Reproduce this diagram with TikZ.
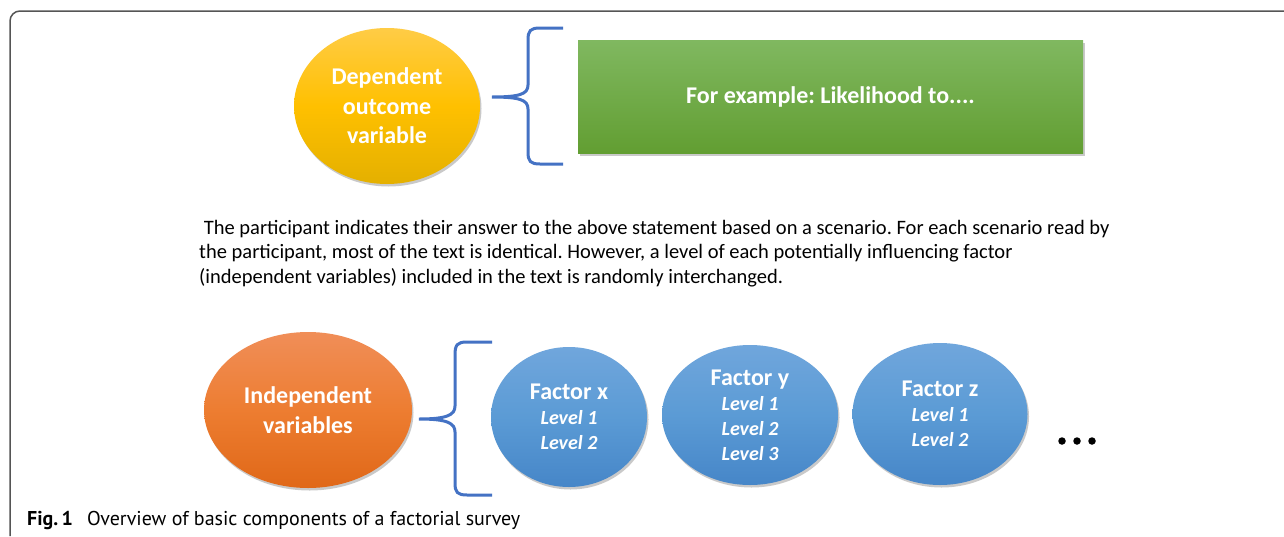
\documentclass[tikz,border=0pt]{standalone}
\usepackage{fontspec}
\setmainfont{Carlito}
\newfontfamily\capfont{PT Sans}
\usetikzlibrary{shapes.geometric,shadows}
\definecolor{framecol}{RGB}{85,85,85}
\definecolor{bracecol}{RGB}{68,114,196}
\definecolor{ytop}{RGB}{255,204,70}
\definecolor{ymid}{RGB}{255,192,0}
\definecolor{ybot}{RGB}{228,176,0}
\definecolor{otop}{RGB}{240,142,88}
\definecolor{omid}{RGB}{237,125,49}
\definecolor{obot}{RGB}{224,104,24}
\definecolor{gtop}{RGB}{128,184,96}
\definecolor{gbot}{RGB}{98,158,50}
\definecolor{btop}{RGB}{112,166,220}
\definecolor{bmid}{RGB}{91,155,213}
\definecolor{bbot}{RGB}{70,134,200}
\frenchspacing
\begin{document}
\begin{tikzpicture}[x=1pt,y=-1pt,
  shad/.style={drop shadow={shadow xshift=1.5pt,shadow yshift=-2.5pt,opacity=0.35,fill=black!60}},
  oval/.style={ellipse,inner sep=0pt,text=white,align=center,shad,
    font=\bfseries\fontsize{24}{29.5}\selectfont},
  yellowfill/.style={top color=ytop,bottom color=ybot,middle color=ymid},
  orangefill/.style={top color=otop,bottom color=obot,middle color=omid},
  bluefill/.style={top color=btop,bottom color=bbot,middle color=bmid},
  factor/.style={oval,bluefill,font=\bfseries\fontsize{20}{25}\selectfont},
  bracepath/.style={draw=bracecol,line width=3pt},
  dotmark/.style={circle,fill=black,inner sep=0pt,minimum size=7.5pt}
]
\useasboundingbox (0,0) rectangle (1284,536);
\fill[white] (0,0) rectangle (1284,536);
% frame
\draw[framecol,line width=1.5pt,rounded corners=10pt] (1284,11) -- (10,11) -- (10,536);

% top row
\node[oval,yellowfill,minimum width=186pt,minimum height=156pt] (dep) at (387,106)
  {Dependent\\outcome\\variable};
\draw[bracepath] (563,28) -- (540,28) .. controls (530,28) and (528,31) .. (528,40)
  -- (528,85) .. controls (528,94) and (520,97) .. (492,97)
  .. controls (520,97) and (528,100) .. (528,109)
  -- (528,152) .. controls (528,161) and (530,164) .. (540,164) -- (563,164);
\node[rectangle,top color=gtop,bottom color=gbot,shad,inner sep=0pt,
  minimum width=505pt,minimum height=113pt,text=white,
  font=\bfseries\fontsize{24}{29}\selectfont] (ex) at (830.5,96.5)
  {For example: Likelihood to....};

% paragraph
\node[anchor=north west,inner sep=0pt,align=left,font=\fontsize{20.5}{24.4}\selectfont] (para) at (199,220)
  {\ The participant indicates their answer to the above statement based on a scenario. For each scenario read by\\
   the participant, most of the text is identical. However, a level of each potentially influencing factor\\
   (independent variables) included in the text is randomly interchanged.};

% bottom row
\node[oval,orangefill,minimum width=208pt,minimum height=156pt] (ind) at (308,410)
  {Independent\\variables};
\draw[bracepath] (492,342) -- (467,342) .. controls (457,342) and (455,345) .. (455,355)
  -- (455,406) .. controls (455,415) and (447,419) .. (419,419)
  .. controls (447,419) and (455,423) .. (455,432)
  -- (455,483) .. controls (455,492) and (457,495) .. (467,495) -- (492,495);
\node[factor,minimum width=156pt,minimum height=140pt] (fx) at (569,417)
  {{\fontsize{24}{26}\selectfont Factor x}\\{\itshape Level 1}\\{\itshape Level 2}};
\node[factor,minimum width=176pt,minimum height=140pt] (fy) at (750,415)
  {{\fontsize{24}{26}\selectfont Factor y}\\{\itshape Level 1}\\{\itshape Level 2}\\{\itshape Level 3}};
\node[factor,minimum width=175pt,minimum height=142pt] (fz) at (940,414)
  {{\fontsize{24}{26}\selectfont Factor z}\\{\itshape Level 1}\\{\itshape Level 2}};
\node[dotmark] (d1) at (1062,441) {};
\node[dotmark] (d2) at (1077,441) {};
\node[dotmark] (d3) at (1092,441) {};

% caption
\node[anchor=base west,inner sep=0pt,font=\capfont\fontsize{20}{22}\selectfont] (cap) at (27,525)
  {\textbf{Fig.\,1}\hspace{0.7em}Overview of basic components of a factorial survey};
\end{tikzpicture}
\end{document}
